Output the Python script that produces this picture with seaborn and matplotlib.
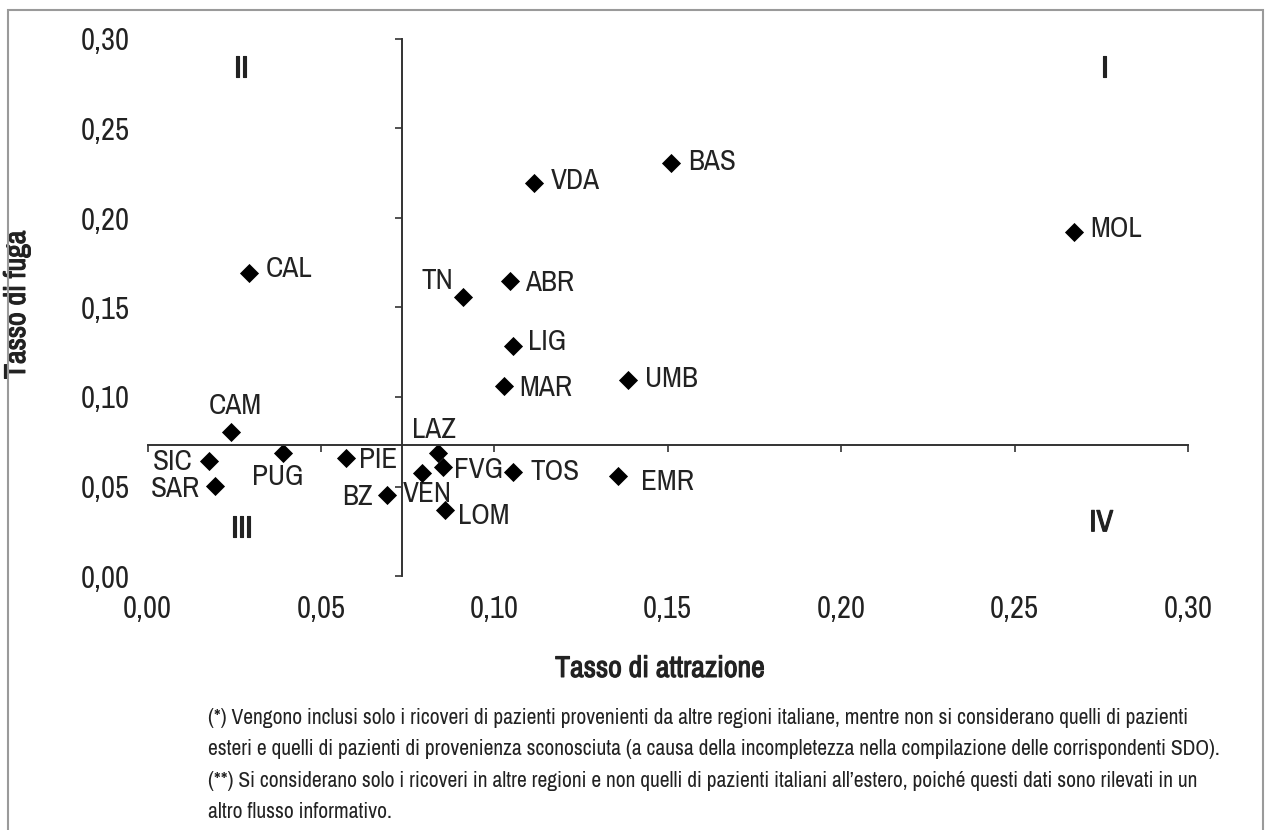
import matplotlib
matplotlib.use("Agg")
import matplotlib.pyplot as plt
from matplotlib import font_manager
from matplotlib.patches import Rectangle
import matplotlib.patheffects as pe
import seaborn as sns
import pandas as pd

# ---------------- data ----------------
regions = ["MOL", "BAS", "VDA", "ABR", "TN", "LIG", "MAR", "UMB", "CAL", "CAM",
           "PUG", "SIC", "SAR", "PIE", "BZ", "VEN", "LAZ", "FVG", "LOM", "TOS", "EMR"]
attrazione = [0.267, 0.151, 0.1115, 0.1045, 0.091, 0.1053, 0.1028, 0.1386, 0.0294, 0.024,
              0.0392, 0.0178, 0.0195, 0.0571, 0.069, 0.0791, 0.0839, 0.0853, 0.0858, 0.1055, 0.1358]
fuga = [0.192, 0.231, 0.2196, 0.165, 0.156, 0.1285, 0.1063, 0.1095, 0.1694, 0.0806,
        0.0689, 0.0642, 0.0505, 0.0659, 0.0453, 0.0577, 0.0685, 0.0611, 0.0369, 0.0583, 0.0559]
media_attrazione = 0.0734
media_fuga = 0.0732
ticks = [0.00, 0.05, 0.10, 0.15, 0.20, 0.25, 0.30]
tick_labels = ["0,00", "0,05", "0,10", "0,15", "0,20", "0,25", "0,30"]
quadrants = ["I", "II", "III", "IV"]
xlabel = "Tasso di attrazione"
ylabel = "Tasso di fuga"
footnote = [
    "(*) Vengono inclusi solo i ricoveri di pazienti provenienti da altre regioni italiane, mentre non si considerano quelli di pazienti",
    "esteri e quelli di pazienti di provenienza sconosciuta (a causa della incompletezza nella compilazione delle corrispondenti SDO).",
    "(**) Si considerano solo i ricoveri in altre regioni e non quelli di pazienti italiani all\u2019estero, poich\u00e9 questi dati sono rilevati in un",
    "altro flusso informativo.",
]

# label offsets in points (dx, dy, ha)
label_pos = {
    "MOL": (12, 3, "left"), "BAS": (12, 1, "left"), "VDA": (12, 2, "left"),
    "ABR": (11, -1, "left"), "TN": (-7, 12, "right"), "LIG": (11, 3, "left"),
    "MAR": (11, -1, "left"), "UMB": (12, 1, "left"), "CAL": (12, 3, "left"),
    "CAM": (3, 19, "center"), "PUG": (-4, -17, "center"), "SIC": (-12, 0, "right"),
    "SAR": (-11, -2, "right"), "PIE": (10, -1, "left"), "BZ": (-10, -1, "right"),
    "VEN": (-14, -15, "left"), "LAZ": (-3, 17, "center"), "FVG": (8, -2, "left"),
    "LOM": (9, -4, "left"), "TOS": (12, 0, "left"), "EMR": (16, -4, "left"),
}

df = pd.DataFrame({"regione": regions, "attrazione": attrazione, "fuga": fuga})

# ---------------- style ----------------
sns.set_theme(style="white")
names = {f.name for f in font_manager.fontManager.ttflist}
pref = ["Archivo Narrow", "Liberation Sans Narrow", "Roboto Condensed", "Liberation Sans", "DejaVu Sans"]
fam = [f for f in pref if f in names] or ["DejaVu Sans"]
narrow = fam[0] in ("Archivo Narrow", "Liberation Sans Narrow", "Roboto Condensed")
plt.rcParams["font.family"] = fam
k = 1.0 if narrow else 0.86
TXT = "#222222"
BOLD = [pe.withStroke(linewidth=0.8, foreground=TXT)]

W, H = 1270, 830
fig = plt.figure(figsize=(W / 100, H / 100), dpi=100)
pos = [147.5 / W, 1 - 576 / H, (1188 - 147.5) / W, (576 - 39) / H]

ax = fig.add_axes(pos)
sns.scatterplot(data=df, x="attrazione", y="fuga", marker="D", s=95, color="black",
                linewidth=0, ax=ax, zorder=5)
ax.set_xlim(0, 0.30)
ax.set_ylim(0, 0.30)
for s in ax.spines.values():
    s.set_visible(False)
ax.set_xticks(ticks)
ax.set_xticklabels(tick_labels)
ax.set_yticks(ticks)
ax.set_yticklabels(tick_labels)
ax.tick_params(axis="both", length=0, labelsize=22 * k, labelcolor=TXT)
ax.tick_params(axis="x", pad=14)
ax.tick_params(axis="y", pad=13)
ax.set_xlabel(xlabel, fontsize=21.5 * k, color=TXT, path_effects=BOLD)
ax.set_ylabel(ylabel, fontsize=21.5 * k, color=TXT, path_effects=BOLD)
ax.xaxis.set_label_coords(0.4925, -0.147)
ax.yaxis.set_label_coords(-0.113, 0.505)
ax.grid(False)
ax.patch.set_alpha(0)

for r, x, y in zip(regions, attrazione, fuga):
    dx, dy, ha = label_pos[r]
    ax.annotate(r, (x, y), xytext=(dx, dy), textcoords="offset points",
                ha=ha, va="center", fontsize=21 * k, color=TXT)

# quadrant labels
qpos = {"I": (0.276, 0.284), "II": (0.027, 0.284), "III": (0.027, 0.027), "IV": (0.275, 0.030)}
for q in quadrants:
    ax.text(*qpos[q], q, ha="center", va="center", fontsize=22 * k, color=TXT,
            path_effects=BOLD)

# crossing axes at the averages
ax2 = fig.add_axes(pos, sharex=ax, sharey=ax)
ax2.patch.set_alpha(0)
ax2.grid(False)
ax2.spines["top"].set_visible(False)
ax2.spines["right"].set_visible(False)
ax2.spines["left"].set_position(("data", media_attrazione))
ax2.spines["bottom"].set_position(("data", media_fuga))
for kk in ("left", "bottom"):
    ax2.spines[kk].set_color("#333333")
    ax2.spines[kk].set_linewidth(1.4)
ax2.tick_params(axis="both", direction="out", length=5, width=1.2, color="#333333",
                labelleft=False, labelbottom=False, left=True, bottom=True)
ax2.set_xlabel("")
ax2.set_ylabel("")

# footnote
for i, line in enumerate(footnote):
    fig.text(208 / W, 1 - (718 + i * 31.3) / H, line, ha="left", va="center",
             fontsize=15.5 * (1.0 if narrow else 0.8), color=TXT)

# frame
fig.patches.append(Rectangle((8 / W, -0.02), (1263 - 8) / W, 1 - 10 / H + 0.02,
                             transform=fig.transFigure, fill=False,
                             edgecolor="#9a9a9a", linewidth=1.5))

fig.savefig("out.png", dpi=100)
